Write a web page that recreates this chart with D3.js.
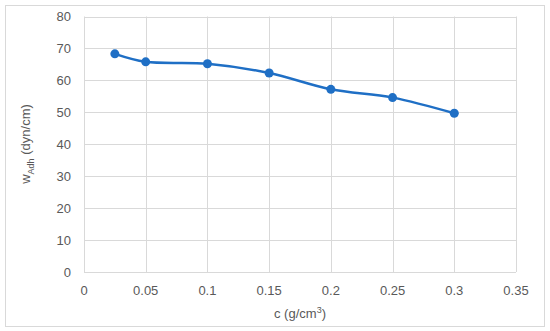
<!DOCTYPE html>
<html><head><meta charset="utf-8">
<script src="https://cdn.jsdelivr.net/npm/d3@7"></script>
<style>body{margin:0;background:#fff}svg{display:block}text{font-family:"Liberation Sans",Arial,sans-serif;fill:#595959}</style>
</head><body>
<svg id="c" width="550" height="331"></svg>
<script>
const concentrations = [0.025, 0.05, 0.1, 0.15, 0.2, 0.25, 0.3];
const wAdh = [68.3, 65.8, 65.2, 62.3, 57.2, 54.6, 49.7];
const xTicks = [0, 0.05, 0.1, 0.15, 0.2, 0.25, 0.3, 0.35];
const yTicks = [0, 10, 20, 30, 40, 50, 60, 70, 80];

const svg = d3.select("#c");
svg.append("rect").attr("x",5.5).attr("y",5.5).attr("width",539).attr("height",321)
  .attr("fill","#fff").attr("stroke","#D9D9D9");

const x = d3.scaleLinear().domain([0,0.35]).range([84,516]);
const y = d3.scaleLinear().domain([0,80]).range([272,16.5]);

const g = svg.append("g");
g.selectAll(".vg").data(xTicks).join("line")
  .attr("x1",d=>Math.round(x(d))+0.5).attr("x2",d=>Math.round(x(d))+0.5)
  .attr("y1",y(80)).attr("y2",y(0)).attr("stroke","#D9D9D9");
g.selectAll(".hg").data(yTicks).join("line")
  .attr("x1",x(0)).attr("x2",x(0.35))
  .attr("y1",d=>Math.round(y(d))+0.5).attr("y2",d=>Math.round(y(d))+0.5).attr("stroke","#D9D9D9");

g.selectAll(".yl").data(yTicks).join("text")
  .attr("x",71).attr("y",d=>y(d)).attr("dy","0.35em").attr("text-anchor","end")
  .attr("font-size",13).text(d=>d);
g.selectAll(".xl").data(xTicks).join("text")
  .attr("x",d=>x(d)).attr("y",290).attr("dy","0.35em").attr("text-anchor","middle")
  .attr("font-size",13).text(d=>d);

const xt = svg.append("text").attr("x",300).attr("y",318).attr("text-anchor","middle").attr("font-size",13);
xt.append("tspan").text("c (g/cm");
xt.append("tspan").attr("font-size",9).attr("dy",-5).text("3");
xt.append("tspan").attr("dy",5).text(")");

const yt = svg.append("text").attr("transform","translate(30,144) rotate(-90)").attr("text-anchor","middle").attr("font-size",13);
yt.append("tspan").text("w");
yt.append("tspan").attr("font-size",9).attr("dy",4).text("Adh");
yt.append("tspan").attr("dy",-4).text(" (dyn/cm)");

const data = concentrations.map((c,i)=>[c,wAdh[i]]);
svg.append("path").datum(data)
  .attr("d", d3.line().x(d=>x(d[0])).y(d=>y(d[1])).curve(d3.curveCatmullRom.alpha(0.5)))
  .attr("fill","none").attr("stroke","#1F6FC5").attr("stroke-width",2.5);
svg.selectAll(".pt").data(data).join("circle")
  .attr("cx",d=>x(d[0])).attr("cy",d=>y(d[1])).attr("r",4.5).attr("fill","#1F6FC5");
</script>
</body></html>
